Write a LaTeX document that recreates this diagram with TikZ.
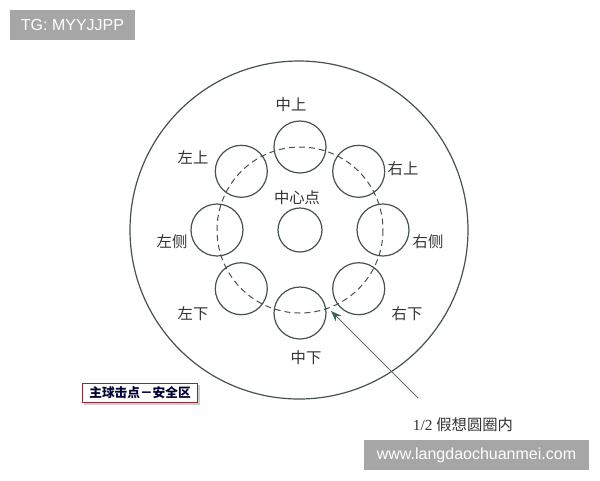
\documentclass[tikz,border=0pt]{standalone}
\usepackage{fontspec}
\setmainfont{Liberation Serif}
\setsansfont{Liberation Sans}
\newfontfamily\cjk{Noto Sans CJK SC}
\usetikzlibrary{arrows.meta}
\definecolor{ringc}{HTML}{465250}
\definecolor{arrowc}{HTML}{2E6B5E}
\definecolor{wmgray}{HTML}{A6A6A6}
\definecolor{boxred}{HTML}{8E2A36}
\tikzset{
  ball/.style={circle, draw=ringc, line width=0.9pt, minimum size=39pt, inner sep=0pt},
  lab/.style={font=\cjk\fontsize{11.5}{13}\selectfont, text=black!80, inner sep=0pt},
  wm/.style={fill=wmgray, text=white, font=\sffamily\fontsize{12}{14}\selectfont, inner sep=0pt},
}
\begin{document}
\begin{tikzpicture}[x=0.75pt,y=-0.75pt]
\useasboundingbox (0,0) rectangle (600,480);
\fill[white] (0,0) rectangle (600,480);
% outer circle
\node[circle, draw=ringc, line width=0.9pt, minimum size=253.5pt, inner sep=0pt] (outer) at (299,230) {};
% dashed circle
\draw[ringc, line width=0.75pt, dash pattern=on 4.5pt off 3pt] (300,230) circle[radius=83];
% balls
\node[ball, minimum size=33pt] (c) at (300,230) {};
\node[ball] (t) at (300,147) {};
\node[ball] (tr) at (358.7,171.3) {};
\node[ball] (r) at (383,230) {};
\node[ball] (br) at (358.7,288.7) {};
\node[ball] (b) at (300,313) {};
\node[ball] (bl) at (241.3,288.7) {};
\node[ball] (l) at (217,230) {};
\node[ball] (tl) at (241.3,171.3) {};
% labels
\node[lab] (lt) at (291,105) {中上};
\node[lab] (ltl) at (193,157) {左上};
\node[lab] (ltr) at (403,169) {右上};
\node[lab] (lc) at (297,198) {中心点};
\node[lab] (ll) at (172,242) {左侧};
\node[lab] (lr) at (428,242) {右侧};
\node[lab] (lbl) at (193,314) {左下};
\node[lab] (lbr) at (407,314) {右下};
\node[lab] (lb) at (306,358) {中下};
% arrow
\coordinate (atail) at (418,398);
\coordinate (ahead) at (331,311);
\draw[gray!85!black, line width=0.7pt, -{Stealth[length=8pt,width=6pt,color=arrowc]}] (atail) -- (ahead);
\node[font=\fontsize{11.5}{13}\selectfont, text=black!80, inner sep=0pt] (half) at (463,425) {1/2 {\cjk 假想圆圈内}};
% red box
\fill[black!20] (84,385) rectangle (200,405);
\node[draw=boxred, line width=1.2pt, fill=white, minimum width=86pt, minimum height=14.5pt, inner sep=0pt,
      font=\cjk\bfseries\fontsize{9.5}{11}\selectfont, text=black!80!blue] (safe) at (140,393) {主球击点－安全区};
% watermarks
\node[wm, minimum width=93.75pt, minimum height=22.5pt] (tg) at (72.5,25) {TG: MYYJJPP};
\node[wm, minimum width=168.75pt, minimum height=22.5pt] (site) at (476.5,455) {www.langdaochuanmei.com};
\end{tikzpicture}
\end{document}
